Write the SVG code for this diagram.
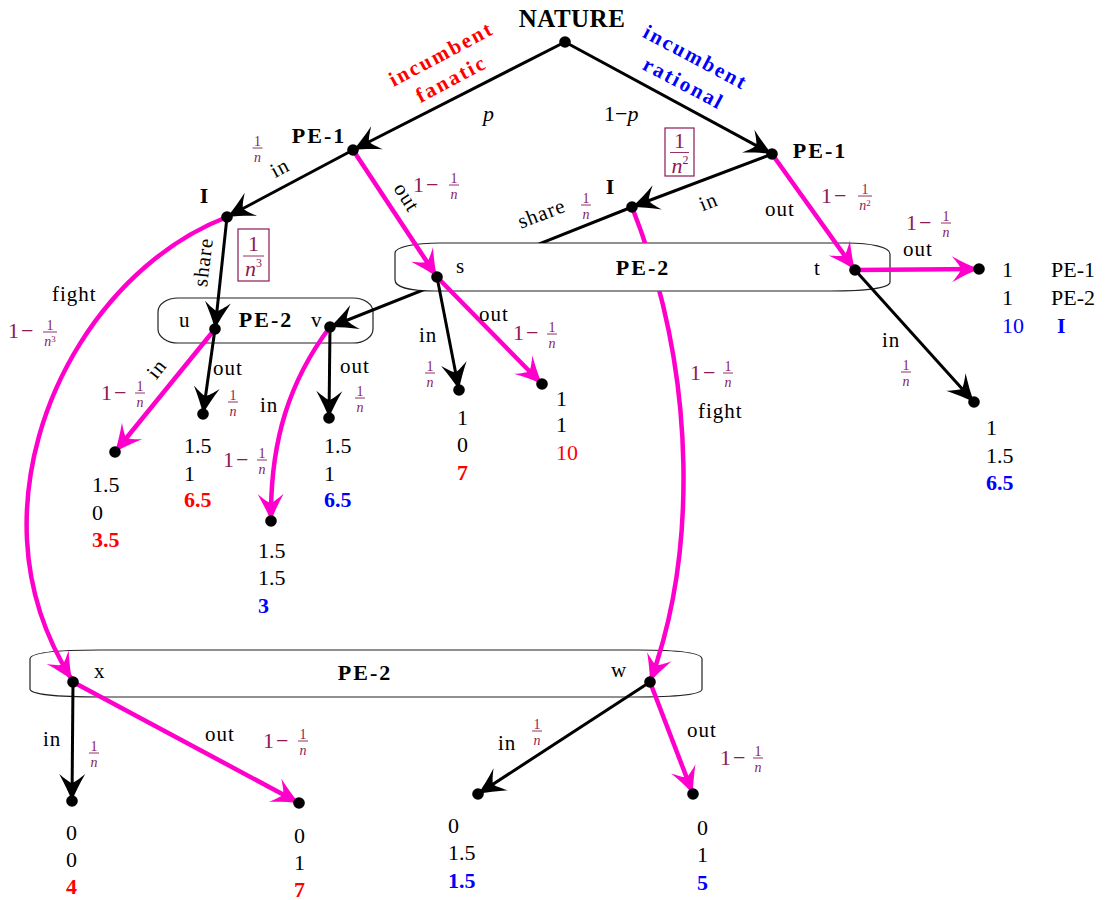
<svg xmlns="http://www.w3.org/2000/svg" width="1110" height="900" viewBox="0 0 1110 900">
<defs>
<style>
text{font-family:"Liberation Serif","DejaVu Serif",serif;fill:#000}
.nat{font-size:25px;font-weight:bold;letter-spacing:0.5px}
.nm{font-size:22px;font-weight:bold;letter-spacing:2px}
.lb{font-size:21px;letter-spacing:1px}
.pay{font-size:22px}
.b{font-weight:bold}
.red{fill:#ff0000}
.blue{fill:#0000ff}
.one{font-size:22px;fill:#8b1a55;letter-spacing:2px}
.fr{font-size:14px;fill:#8b1a55;letter-spacing:0}
.sup{font-size:9px;fill:#8b1a55;letter-spacing:0}
.bsup{font-size:12px;fill:#8b1a55}
.bf{font-size:22px;fill:#8b1a55}
.it{font-style:italic}
.fb{stroke:#8b1a55;stroke-width:0.9}
.blk{fill:none;stroke:#000;stroke-width:3;marker-end:url(#ah)}
.pnk{fill:none;stroke:#ff00cc;stroke-width:4.5;marker-end:url(#ap)}
.box{fill:#fff;stroke:#222;stroke-width:1.2}
.pbox{fill:none;stroke:#8b1a55;stroke-width:1.2}
.dot{fill:#000}
.typ{font-size:21px;font-weight:bold;letter-spacing:2.2px}
</style>
<marker id="ah" viewBox="-30 -15 32 30" refX="0" refY="0" markerWidth="32" markerHeight="30" markerUnits="userSpaceOnUse" orient="auto">
<path d="M0,0 C-8,-3 -18,-8 -27,-13 C-22,-7 -19,-3 -18,0 C-19,3 -22,7 -27,13 C-18,8 -8,3 0,0 Z" fill="#000"/>
</marker>
<marker id="ap" viewBox="-30 -15 32 30" refX="0" refY="0" markerWidth="32" markerHeight="30" markerUnits="userSpaceOnUse" orient="auto">
<path d="M0,0 C-8,-3 -18,-8 -27,-13 C-22,-7 -19,-3 -18,0 C-19,3 -22,7 -27,13 C-18,8 -8,3 0,0 Z" fill="#ff00cc"/>
</marker>
<mask id="hideA" maskUnits="userSpaceOnUse" x="0" y="0" width="1110" height="900">
<rect x="0" y="0" width="1110" height="900" fill="#fff"/>
<path d="M440,243 L847,243 C870,243 890,247 890,254 L890,282 C890,288 865,291 830,291 L435,291 C410,291 395,287 395,280 L395,253 C395,247 415,243 440,243 Z" fill="#000"/>
</mask>
</defs>
<rect x="0" y="0" width="1110" height="900" fill="#fff"/>

<g id="infoset-st">
<path class="box" d="M440,243 L847,243 C870,243 890,247 890,254 L890,282 C890,288 865,291 830,291 L435,291 C410,291 395,287 395,280 L395,253 C395,247 415,243 440,243 Z"/>
<text class="nm" x="643" y="275" text-anchor="middle">PE-2</text>
</g>
<g id="infoset-uv">
<rect class="box" x="158" y="298" width="215" height="45" rx="20" ry="14"/>
<text class="nm" x="266" y="327" text-anchor="middle">PE-2</text>
</g>
<g id="infoset-xw">
<path class="box" d="M100,650 L637,650 C680,650 702,653 702,659 L702,689 C702,694 680,697 633,697 L100,697 C55,697 30,694 30,689 L30,659 C30,653 55,650 100,650 Z"/>
<text class="nm" x="365" y="680" text-anchor="middle">PE-2</text>
</g>

<g id="connectors">
<path class="blk" d="M565,42 L353,150"/>
<path class="blk" d="M565,42 L772,154"/>
<path class="blk" d="M353,150 L227,217"/>
<path class="pnk" d="M353,150 L437,277"/>
<path class="blk" d="M772,154 L632,207"/>
<path class="pnk" d="M772,154 L855,270"/>
<path class="blk" d="M227,217 L215,329"/>
<path class="pnk" d="M227,217 C110,262 20,400 27,540 C30,600 50,645 72,680"/>
<path class="blk" d="M632,207 L330,327" mask="url(#hideA)"/>
<path class="pnk" d="M632,207 C700,380 695,560 650,682" mask="url(#hideA)"/>
<path class="blk" d="M437,277 L459,390"/>
<path class="pnk" d="M437,277 L542,384"/>
<path class="pnk" d="M855,270 L979,269"/>
<path class="blk" d="M855,270 L974,402"/>
<path class="pnk" d="M215,329 L115,452"/>
<path class="blk" d="M215,329 L203,414"/>
<path class="blk" d="M330,327 L329,418"/>
<path class="pnk" d="M330,327 C290,380 270,440 271,521"/>
<path class="blk" d="M73,682 L72,801"/>
<path class="pnk" d="M73,682 L299,803"/>
<path class="blk" d="M650,682 L478,794"/>
<path class="pnk" d="M650,682 L693,794"/>
</g>

<g id="edge-labels">
<text class="typ red" transform="translate(444.5,60) rotate(-28)" text-anchor="middle">incumbent</text>
<text class="typ red" transform="translate(454.5,85) rotate(-28)" text-anchor="middle">fanatic</text>
<text class="typ blue" transform="translate(692.5,63.5) rotate(28)" text-anchor="middle">incumbent</text>
<text class="typ blue" transform="translate(680.5,89.5) rotate(28)" text-anchor="middle">rational</text>
<text class="pay it" x="483" y="121">p</text>
<text class="pay" x="604" y="121">1−<tspan class="it">p</tspan></text>

<text class="lb" transform="translate(283,174) rotate(-28)" text-anchor="middle">in</text>
<line class="fb" x1="252.5" y1="148" x2="262.5" y2="148"/>
<text class="fr"><tspan x="254" y="146">1</tspan><tspan class="it" x="254" y="161.5">n</tspan></text>

<text class="lb" transform="translate(401,201) rotate(58)" text-anchor="middle">out</text>
<line class="fb" x1="449" y1="185" x2="459" y2="185"/>
<text class="one" x="413" y="192">1−<tspan class="fr" x="450.5" y="183">1</tspan><tspan class="fr it" x="450.5" y="198.5">n</tspan></text>

<text class="lb" transform="translate(711,208) rotate(-22)" text-anchor="middle">in</text>
<rect class="pbox" x="665" y="128" width="29" height="48"/>
<line class="fb" x1="670" y1="152.5" x2="689" y2="152.5"/>
<text class="bf"><tspan x="674" y="148">1</tspan><tspan class="it" x="671.5" y="173">n</tspan><tspan class="bsup" dy="-9">2</tspan></text>

<text class="lb" x="765" y="216">out</text>
<line class="fb" x1="858" y1="196" x2="872" y2="196"/>
<text class="one" x="821" y="203">1−<tspan class="fr" x="861.5" y="194">1</tspan><tspan class="fr it" x="859.2" y="209.5">n</tspan><tspan class="sup" dy="-4">2</tspan></text>

<text class="lb" transform="translate(544,220) rotate(-21)" text-anchor="middle">share</text>
<line class="fb" x1="581" y1="205" x2="591" y2="205"/>
<text class="fr"><tspan x="582.5" y="203">1</tspan><tspan class="it" x="582.5" y="218.5">n</tspan></text>

<text class="lb" transform="translate(210,263) rotate(-83)" text-anchor="middle">share</text>
<rect class="pbox" x="238" y="229" width="31" height="52"/>
<line class="fb" x1="243" y1="256" x2="264" y2="256"/>
<text class="bf"><tspan x="248" y="251">1</tspan><tspan class="it" x="245" y="276">n</tspan><tspan class="bsup" dy="-9">3</tspan></text>

<text class="lb" x="52" y="301">fight</text>
<line class="fb" x1="43" y1="332" x2="57" y2="332"/>
<text class="one" x="8" y="338">1−<tspan class="fr" x="46.5" y="330">1</tspan><tspan class="fr it" x="44.2" y="345.5">n</tspan><tspan class="sup" dy="-4">3</tspan></text>

<text class="lb" x="903" y="256">out</text>
<line class="fb" x1="941" y1="223" x2="951" y2="223"/>
<text class="one" x="906" y="230">1−<tspan class="fr" x="942.5" y="221">1</tspan><tspan class="fr it" x="942.5" y="236.5">n</tspan></text>

<text class="lb" x="882" y="347">in</text>
<line class="fb" x1="901" y1="372" x2="911" y2="372"/>
<text class="fr"><tspan x="902.5" y="370">1</tspan><tspan class="it" x="902.5" y="385.5">n</tspan></text>

<text class="lb" x="419" y="342">in</text>
<line class="fb" x1="425" y1="373" x2="435" y2="373"/>
<text class="fr"><tspan x="426.5" y="371">1</tspan><tspan class="it" x="426.5" y="386.5">n</tspan></text>

<text class="lb" x="479" y="321">out</text>
<line class="fb" x1="547" y1="334" x2="557" y2="334"/>
<text class="one" x="513" y="340">1−<tspan class="fr" x="548.5" y="332">1</tspan><tspan class="fr it" x="548.5" y="347.5">n</tspan></text>

<line class="fb" x1="723" y1="373" x2="733" y2="373"/>
<text class="one" x="690" y="380">1−<tspan class="fr" x="724.5" y="371">1</tspan><tspan class="fr it" x="724.5" y="386.5">n</tspan></text>
<text class="lb" x="698" y="418">fight</text>

<text class="lb" transform="translate(162,373) rotate(-51)" text-anchor="middle">in</text>
<line class="fb" x1="135" y1="393" x2="145" y2="393"/>
<text class="one" x="101" y="400">1−<tspan class="fr" x="136.5" y="391">1</tspan><tspan class="fr it" x="136.5" y="406.5">n</tspan></text>

<text class="lb" x="213" y="375">out</text>
<line class="fb" x1="228" y1="402" x2="238" y2="402"/>
<text class="fr"><tspan x="229.5" y="400">1</tspan><tspan class="it" x="229.5" y="415.5">n</tspan></text>

<text class="lb" x="340" y="373">out</text>
<line class="fb" x1="355" y1="398" x2="365" y2="398"/>
<text class="fr"><tspan x="356.5" y="396">1</tspan><tspan class="it" x="356.5" y="411.5">n</tspan></text>

<text class="lb" x="260" y="412">in</text>
<line class="fb" x1="257" y1="460" x2="267" y2="460"/>
<text class="one" x="223" y="467">1−<tspan class="fr" x="258.5" y="458">1</tspan><tspan class="fr it" x="258.5" y="473.5">n</tspan></text>

<text class="lb" x="43" y="746">in</text>
<line class="fb" x1="89" y1="753" x2="99" y2="753"/>
<text class="fr"><tspan x="90.5" y="751">1</tspan><tspan class="it" x="90.5" y="766.5">n</tspan></text>

<text class="lb" x="205" y="741">out</text>
<line class="fb" x1="298" y1="741" x2="308" y2="741"/>
<text class="one" x="263" y="748">1−<tspan class="fr" x="299.5" y="739">1</tspan><tspan class="fr it" x="299.5" y="754.5">n</tspan></text>

<text class="lb" x="498" y="750">in</text>
<line class="fb" x1="532" y1="731" x2="542" y2="731"/>
<text class="fr"><tspan x="533.5" y="729">1</tspan><tspan class="it" x="533.5" y="744.5">n</tspan></text>

<text class="lb" x="687" y="737">out</text>
<line class="fb" x1="753" y1="758" x2="763" y2="758"/>
<text class="one" x="720" y="765">1−<tspan class="fr" x="754.5" y="756">1</tspan><tspan class="fr it" x="754.5" y="771.5">n</tspan></text>
</g>

<g id="node-nature"><circle class="dot" cx="565" cy="42" r="5.8"/><text class="nat" x="572" y="27" text-anchor="middle">NATURE</text></g>
<g id="node-pe1-fanatic"><circle class="dot" cx="353" cy="150" r="5.8"/><text class="nm" x="319" y="143" text-anchor="middle">PE-1</text></g>
<g id="node-pe1-rational"><circle class="dot" cx="772" cy="154" r="5.8"/><text class="nm" x="820" y="158" text-anchor="middle">PE-1</text></g>
<g id="node-i-fanatic"><circle class="dot" cx="227" cy="217" r="5.8"/><text class="nm" x="205" y="203" text-anchor="middle">I</text></g>
<g id="node-i-rational"><circle class="dot" cx="632" cy="207" r="5.8"/><text class="nm" x="611" y="194" text-anchor="middle">I</text></g>
<g id="node-s"><circle class="dot" cx="437" cy="277" r="5.8"/><text class="lb" x="456" y="273">s</text></g>
<g id="node-t"><circle class="dot" cx="855" cy="270" r="5.8"/><text class="lb" x="814" y="275">t</text></g>
<g id="node-u"><circle class="dot" cx="215" cy="329" r="5.8"/><text class="lb" x="179" y="327">u</text></g>
<g id="node-v"><circle class="dot" cx="330" cy="327" r="5.8"/><text class="lb" x="311" y="327">v</text></g>
<g id="node-x"><circle class="dot" cx="73" cy="682" r="5.8"/><text class="lb" x="94" y="678">x</text></g>
<g id="node-w"><circle class="dot" cx="650" cy="682" r="5.8"/><text class="lb" x="611" y="677">w</text></g>

<g id="leaf-t-out"><circle class="dot" cx="979" cy="269" r="5.8"/>
<text class="pay" x="1002" y="277">1</text><text class="pay" x="1051" y="277">PE-1</text>
<text class="pay" x="1002" y="305">1</text><text class="pay" x="1051" y="305">PE-2</text>
<text class="pay blue" x="1002" y="333">10</text><text class="pay blue b" x="1057" y="333">I</text></g>
<g id="leaf-t-in"><circle class="dot" cx="974" cy="402" r="5.8"/>
<text class="pay" x="986" y="435">1</text><text class="pay" x="986" y="463">1.5</text><text class="pay blue b" x="986" y="490">6.5</text></g>
<g id="leaf-s-in"><circle class="dot" cx="459" cy="390" r="5.8"/>
<text class="pay" x="457" y="425">1</text><text class="pay" x="457" y="452">0</text><text class="pay red b" x="457" y="480">7</text></g>
<g id="leaf-s-out"><circle class="dot" cx="542" cy="384" r="5.8"/>
<text class="pay" x="556" y="406">1</text><text class="pay" x="556" y="432">1</text><text class="pay red" x="556" y="460">10</text></g>
<g id="leaf-u-in"><circle class="dot" cx="115" cy="452" r="5.8"/>
<text class="pay" x="92" y="492">1.5</text><text class="pay" x="92" y="520">0</text><text class="pay red b" x="92" y="547">3.5</text></g>
<g id="leaf-u-out"><circle class="dot" cx="203" cy="414" r="5.8"/>
<text class="pay" x="184" y="453">1.5</text><text class="pay" x="184" y="481">1</text><text class="pay red b" x="184" y="507">6.5</text></g>
<g id="leaf-v-out"><circle class="dot" cx="329" cy="418" r="5.8"/>
<text class="pay" x="324" y="453">1.5</text><text class="pay" x="324" y="481">1</text><text class="pay blue b" x="324" y="507">6.5</text></g>
<g id="leaf-v-in"><circle class="dot" cx="271" cy="521" r="5.8"/>
<text class="pay" x="258" y="558">1.5</text><text class="pay" x="258" y="585">1.5</text><text class="pay blue b" x="258" y="613">3</text></g>
<g id="leaf-x-in"><circle class="dot" cx="72" cy="801" r="5.8"/>
<text class="pay" x="66" y="840">0</text><text class="pay" x="66" y="867">0</text><text class="pay red b" x="66" y="894">4</text></g>
<g id="leaf-x-out"><circle class="dot" cx="299" cy="803" r="5.8"/>
<text class="pay" x="294" y="843">0</text><text class="pay" x="294" y="870">1</text><text class="pay red b" x="294" y="897">7</text></g>
<g id="leaf-w-in"><circle class="dot" cx="478" cy="794" r="5.8"/>
<text class="pay" x="448" y="833">0</text><text class="pay" x="448" y="860">1.5</text><text class="pay blue b" x="448" y="888">1.5</text></g>
<g id="leaf-w-out"><circle class="dot" cx="693" cy="794" r="5.8"/>
<text class="pay" x="697" y="835">0</text><text class="pay" x="697" y="862">1</text><text class="pay blue b" x="697" y="890">5</text></g>
</svg>
